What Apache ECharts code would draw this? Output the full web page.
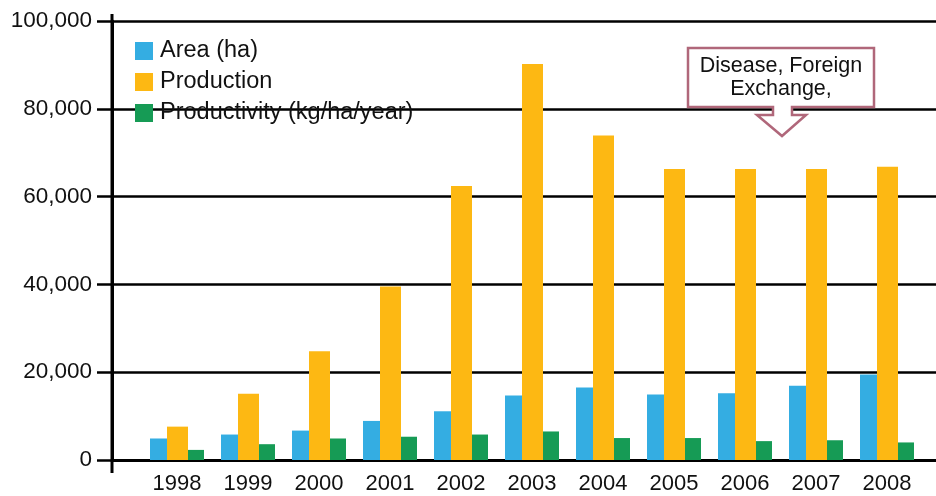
<!DOCTYPE html>
<html>
<head>
<meta charset="utf-8">
<script src="https://cdn.jsdelivr.net/npm/echarts@6/dist/echarts.min.js"></script>
<style>
html,body{margin:0;padding:0;background:#fff;}
#c{width:936px;height:496px;}
</style>
</head>
<body>
<div id="c"></div>
<script>
const years = [1998, 1999, 2000, 2001, 2002, 2003, 2004, 2005, 2006, 2007, 2008];
const area = [4900, 5800, 6700, 8900, 11100, 14700, 16500, 14900, 15200, 16900, 19500];
const production = [7600, 15100, 24800, 39500, 62400, 90200, 73900, 66300, 66300, 66300, 66800];
const productivity = [2300, 3600, 4900, 5300, 5800, 6500, 5000, 5000, 4300, 4500, 4000];
const yTicks = [0, 20000, 40000, 60000, 80000, 100000];
const seriesNames = ['Area (ha)', 'Production', 'Productivity (kg/ha/year)'];
const noteLines = ['Disease, Foreign', 'Exchange,'];

const FONT = 'Liberation Sans';
const pair = arr => arr.map((v, i) => [years[i], v]);

const chart = echarts.init(document.getElementById('c'), null, {renderer: 'canvas'});
chart.setOption({
  backgroundColor: '#ffffff',
  animation: false,
  textStyle: {fontFamily: FONT},
  grid: {left: 112, right: 0, top: 21, bottom: 36},
  legend: {
    orient: 'vertical', left: 130, top: 34, icon: 'rect',
    itemWidth: 18, itemHeight: 18, itemGap: 7,
    textStyle: {fontFamily: FONT, fontSize: 23.5, color: '#111', padding: [0, 0, 0, 2]},
    data: seriesNames
  },
  xAxis: {
    type: 'value',
    min: 1997.0845, max: 2008.6901,
    axisLine: {show: true, onZero: false, lineStyle: {color: '#000', width: 3}},
    axisTick: {show: false},
    splitLine: {show: false},
    axisLabel: {
      customValues: years, fontFamily: FONT, fontSize: 22, color: '#111', margin: 13,
      formatter: v => String(Math.round(v))
    }
  },
  yAxis: {
    type: 'value', min: 0, max: 100000, interval: 20000,
    axisLine: {show: true, lineStyle: {color: '#000', width: 3}},
    axisTick: {show: true, length: 15, lineStyle: {color: '#000', width: 2.5}},
    splitLine: {show: true, lineStyle: {color: '#000', width: 2.5}},
    axisLabel: {
      fontFamily: FONT, fontSize: 22.5, color: '#111', margin: 20,
      formatter: v => v.toLocaleString('en-US')
    }
  },
  series: [
    {name: seriesNames[0], type: 'bar', barWidth: 17, barGap: 0, itemStyle: {color: '#34ADE2'}, data: pair(area)},
    {name: seriesNames[1], type: 'bar', barWidth: 21, barGap: 0, itemStyle: {color: '#FDB813'}, data: pair(production)},
    {name: seriesNames[2], type: 'bar', barWidth: 16, barGap: 0, itemStyle: {color: '#169B55'}, data: pair(productivity)}
  ],
  graphic: [
    {
      type: 'line', z: 50,
      shape: {x1: 112, y1: 14, x2: 112, y2: 473},
      style: {stroke: '#000', lineWidth: 3}
    },
    {
      type: 'polygon', z: 100,
      shape: {points: [[688,48],[874,48],[874,107],[792,107],[792,115],[806,115],[782,136],[757,115],[773,115],[773,107],[688,107]]},
      style: {fill: '#ffffff', stroke: '#B0677A', lineWidth: 2.5}
    },
    {
      type: 'text', z: 101, x: 781, y: 55,
      style: {
        text: noteLines.join('\n'), align: 'center', verticalAlign: 'top',
        font: '21.5px "Liberation Sans"', fill: '#111', lineHeight: 23
      }
    }
  ]
});
</script>
</body>
</html>
